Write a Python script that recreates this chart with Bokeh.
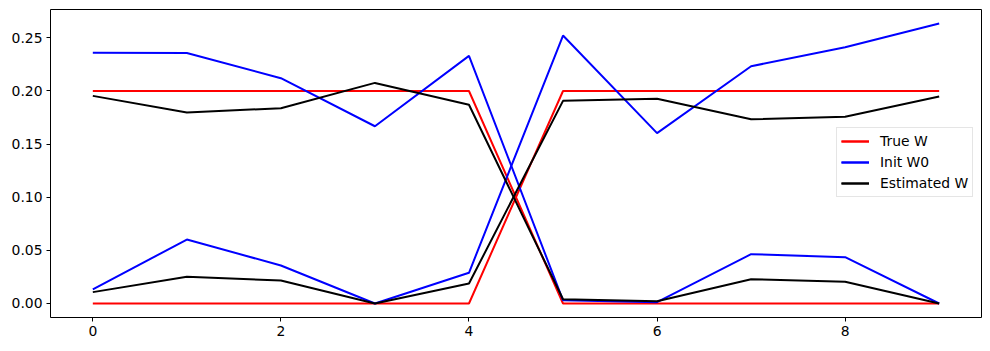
from bokeh.plotting import figure
from bokeh.models import Legend, LegendItem, FixedTicker, PrintfTickFormatter, Range1d
from bokeh.embed import file_html
from bokeh.resources import INLINE

x = [0, 1, 2, 3, 4, 5, 6, 7, 8, 9]

true_w_a = [0.2, 0.2, 0.2, 0.2, 0.2, 0.0, 0.0, 0.0, 0.0, 0.0]
true_w_b = [0.0, 0.0, 0.0, 0.0, 0.0, 0.2, 0.2, 0.2, 0.2, 0.2]

init_w0_a = [0.2359, 0.2357, 0.2120, 0.1668, 0.2330, 0.0030, 0.0012, 0.0464, 0.0436, 0.0]
init_w0_b = [0.0132, 0.0602, 0.0358, 0.0, 0.0289, 0.2522, 0.1603, 0.2233, 0.2412, 0.2635]

est_w_a = [0.1954, 0.1797, 0.1838, 0.2076, 0.1870, 0.0040, 0.0022, 0.0229, 0.0204, 0.0]
est_w_b = [0.0107, 0.0251, 0.0216, 0.0, 0.0188, 0.1907, 0.1926, 0.1734, 0.1757, 0.1948]

x_ticks = [0, 2, 4, 6, 8]
y_ticks = [0.0, 0.05, 0.10, 0.15, 0.20, 0.25]

p = figure(width=990, height=351, output_backend="svg", toolbar_location=None,
           x_range=Range1d(-0.45, 9.45), y_range=Range1d(-0.01318, 0.27668),
           min_border_left=50, min_border_right=9, min_border_top=9, min_border_bottom=34)
p.background_fill_color = "white"
p.border_fill_color = "white"
p.outline_line_color = "black"
p.outline_line_width = 1
p.xgrid.visible = False
p.ygrid.visible = False

for ax in (p.xaxis[0], p.yaxis[0]):
    ax.axis_line_color = None
    ax.major_tick_in = 0
    ax.major_tick_out = 4
    ax.minor_tick_line_color = None
    ax.major_label_text_font = "DejaVu Sans"
    ax.major_label_text_font_size = "13.9px"
    ax.major_label_text_color = "black"
    ax.major_tick_line_color = "black"
p.xaxis[0].ticker = FixedTicker(ticks=x_ticks)
p.yaxis[0].ticker = FixedTicker(ticks=y_ticks)
p.yaxis[0].formatter = PrintfTickFormatter(format="%.2f")
p.xaxis[0].major_label_standoff = 4
p.yaxis[0].major_label_standoff = 4

lw = 2
r1 = p.line(x, true_w_a, line_color="red", line_width=lw)
r2 = p.line(x, true_w_b, line_color="red", line_width=lw)
r3 = p.line(x, init_w0_a, line_color="blue", line_width=lw)
r4 = p.line(x, init_w0_b, line_color="blue", line_width=lw)
r5 = p.line(x, est_w_a, line_color="black", line_width=lw)
r6 = p.line(x, est_w_b, line_color="black", line_width=lw)

legend = Legend(items=[
    LegendItem(label="True W", renderers=[r1, r2]),
    LegendItem(label="Init W0", renderers=[r3, r4]),
    LegendItem(label="Estimated W", renderers=[r5, r6]),
], location=(786, 120))
legend.label_text_font = "DejaVu Sans"
legend.label_text_font_size = "13.9px"
legend.label_text_color = "black"
legend.glyph_width = 28
legend.glyph_height = 18
legend.label_height = 18
legend.spacing = 3
legend.padding = 4
legend.margin = 0
legend.label_standoff = 11
legend.border_line_color = "#cccccc"
legend.border_line_width = 1
legend.background_fill_alpha = 0.8
p.add_layout(legend, "center")

open("out.html", "w").write(file_html(p, INLINE))
